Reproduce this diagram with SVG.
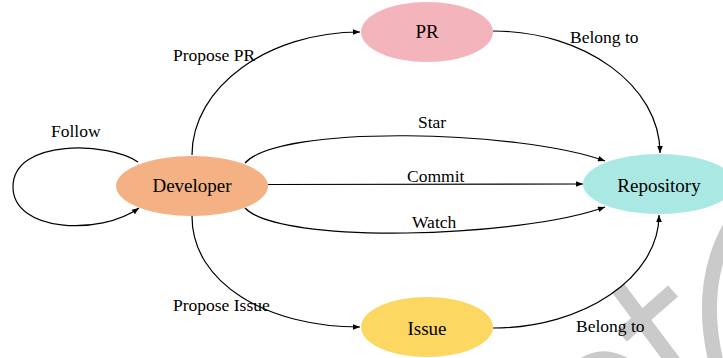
<svg xmlns="http://www.w3.org/2000/svg" width="723" height="358" viewBox="0 0 723 358">
<defs>
<style>
.wm{fill:none;stroke:#cacaca;stroke-width:15}
.edge{fill:none;stroke:#000;stroke-width:1.2;marker-end:url(#arr)}
text{font-family:'Liberation Serif','Times New Roman',Times,serif;fill:#000}
.nl{font-size:19px;text-anchor:middle}
.el{font-size:17.5px}
</style>
<marker id="arr" viewBox="0 0 10 10" refX="10" refY="5" markerWidth="8" markerHeight="7" orient="auto" markerUnits="userSpaceOnUse">
<path d="M0,1 L10,5 L0,9 z" fill="#000"/>
</marker>
</defs>
<rect width="723" height="358" fill="#fff"/>
<g id="watermark">
<line class="wm" x1="618" y1="288" x2="690" y2="384"/>
<line class="wm" x1="673" y1="291" x2="622" y2="336"/>
<path class="wm" d="M716,362 C706,320 704,270 733,222"/>
<path class="wm" d="M575,372 Q600,348 630,368"/>
</g>
<g id="connectors">
<path class="edge" d="M138,162 C110,142 13,138 13,187 C13,232 100,236 139,208"/>
<path class="edge" d="M192,155 C192,87 268,32 360,32"/>
<path class="edge" d="M192,216 C192,284 268,327 360,327"/>
<path class="edge" d="M493,31 C585,31 660,86 660,153"/>
<path class="edge" d="M493,328 C584,328 659,277 659,215"/>
<path class="edge" d="M245,163 C280,124 520,130 605,161"/>
<path class="edge" d="M268,184.5 L583,184"/>
<path class="edge" d="M245,208 C280,245 520,238 605,207"/>
<g font-family="Liberation Serif, Times New Roman, serif" font-size="17.5">
<text class="el" x="51" y="137">Follow</text>
<text class="el" x="173" y="61">Propose PR</text>
<text class="el" x="570" y="43">Belong to</text>
<text class="el" x="418" y="128">Star</text>
<text class="el" x="407" y="182">Commit</text>
<text class="el" x="412" y="228">Watch</text>
<text class="el" x="173" y="311">Propose Issue</text>
<text class="el" x="576" y="332">Belong to</text>
</g>
</g>
<g id="developer">
<ellipse cx="192" cy="186" rx="76" ry="30" fill="#f4b183"/>
<text class="nl" x="192" y="192" font-family="Liberation Serif, serif">Developer</text>
</g>
<g id="pr">
<ellipse cx="427" cy="32" rx="66" ry="30" fill="#f4b4bc"/>
<text class="nl" x="427" y="38" font-family="Liberation Serif, serif">PR</text>
</g>
<g id="repository">
<ellipse cx="659" cy="184" rx="76" ry="30" fill="#a9e8e3"/>
<text class="nl" x="659" y="192" font-family="Liberation Serif, serif">Repository</text>
</g>
<g id="issue">
<ellipse cx="427" cy="327" rx="66" ry="30" fill="#fcd862"/>
<text class="nl" x="427" y="335" font-family="Liberation Serif, serif">Issue</text>
</g>
</svg>
